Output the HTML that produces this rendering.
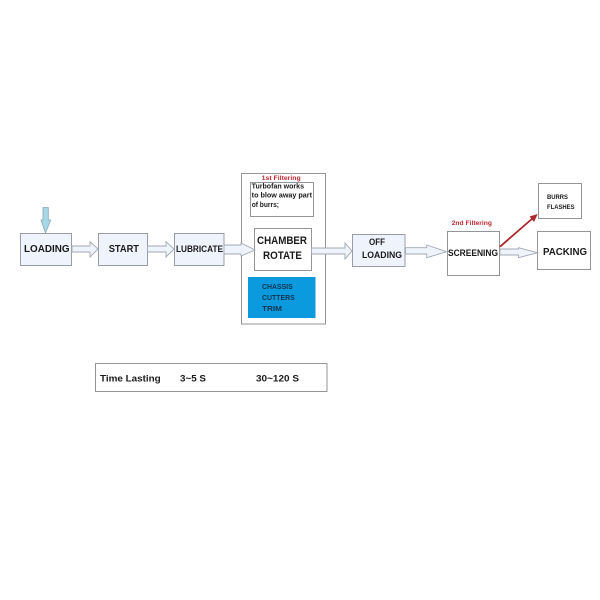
<!DOCTYPE html>
<html><head><meta charset="utf-8"><style>
html,body{margin:0;padding:0;background:#fff}
svg{display:block}
text{font-family:"Liberation Sans",sans-serif;font-weight:bold;fill:#1a1a1a}
.b{fill:#eff4fc;stroke:#989da4;stroke-width:1}
.w{fill:#fff;stroke:#959595;stroke-width:1}
.a{fill:#eff4fc;stroke:#a0a8b2;stroke-width:.9}
</style></head><body>
<svg width="600" height="600" viewBox="0 0 600 600" xmlns="http://www.w3.org/2000/svg">
<rect width="600" height="600" fill="#fff"/>
<rect class="w" x="241.5" y="173.5" width="84" height="150.5"/>
<rect class="b" x="20.5" y="233.5" width="51" height="32"/>
<rect class="b" x="98.5" y="233.5" width="49" height="32"/>
<rect class="b" x="174.5" y="233.5" width="49.5" height="32"/>
<rect class="b" x="352.5" y="234.5" width="52.5" height="32"/>
<rect class="w" x="250.5" y="182.5" width="63" height="34"/>
<rect class="w" x="254.5" y="228.5" width="57" height="42"/>
<rect x="248" y="277" width="67.5" height="41" fill="#0b9ade"/>
<rect class="w" x="447.5" y="231.5" width="52" height="44"/>
<rect class="w" x="538.5" y="183.5" width="43" height="35"/>
<rect class="w" x="537.5" y="231.5" width="53" height="38"/>
<rect class="w" x="95.5" y="363.5" width="231.5" height="28"/>
<polygon points="43,207.5 48.3,207.5 48.3,220 50.7,220 45.5,233 41,220 43,220" fill="#a5d9e8" stroke="#8aa8b5" stroke-width=".8"/>
<polygon class="a" points="72,246 90,246 90,241.7 98,249 90,257 90,252 72,252"/>
<polygon class="a" points="147.5,246 166,246 166,241.7 174,249 166,257 166,252 147.5,252"/>
<polygon class="a" points="224,245 241,245 241,243 255,250 241,256 241,254 224,254"/>
<polygon class="a" points="311.5,248 345,248 345,243 352,251 345,259 345,254 311.5,254"/>
<polygon class="a" points="405.5,247.7 426.7,247.7 426.7,245 446.7,251.7 426.7,257.7 426.7,254 405.5,254"/>
<polygon class="a" points="500,249 518.5,249 518.5,247.7 537.7,252.7 518.5,257.7 518.5,255 500,255"/>
<line x1="500" y1="246.7" x2="533" y2="218" stroke="#a82a2a" stroke-width="1.8"/>
<polygon points="537.7,214 529.5,216.5 534,222" fill="#a82a2a"/>
<text x="24" y="252" font-size="10.5" textLength="45.5" lengthAdjust="spacingAndGlyphs">LOADING</text>
<text x="108.7" y="252" font-size="10.5" textLength="30.3" lengthAdjust="spacingAndGlyphs">START</text>
<text x="176" y="252" font-size="9.6" textLength="47" lengthAdjust="spacingAndGlyphs">LUBRICATE</text>
<text x="257" y="244" font-size="10.8" textLength="50" lengthAdjust="spacingAndGlyphs">CHAMBER</text>
<text x="263" y="259" font-size="10.8" textLength="39" lengthAdjust="spacingAndGlyphs">ROTATE</text>
<text x="261.7" y="180" font-size="6.8" textLength="39" lengthAdjust="spacingAndGlyphs" style="fill:#c02a34">1st Filtering</text>
<text x="251.7" y="188.3" font-size="7" textLength="52.3" lengthAdjust="spacingAndGlyphs">Turbofan works</text>
<text x="251.7" y="197.3" font-size="7" textLength="60.3" lengthAdjust="spacingAndGlyphs">to blow away part</text>
<text x="251.7" y="207" font-size="7" textLength="27.3" lengthAdjust="spacingAndGlyphs">of burrs;</text>
<text x="262" y="289" font-size="7.6" textLength="30.7" lengthAdjust="spacingAndGlyphs" style="fill:#12334f">CHASSIS</text>
<text x="262" y="300" font-size="7.6" textLength="32.7" lengthAdjust="spacingAndGlyphs" style="fill:#12334f">CUTTERS</text>
<text x="262" y="311" font-size="7.6" textLength="20" lengthAdjust="spacingAndGlyphs" style="fill:#12334f">TRIM</text>
<text x="369" y="245" font-size="9.3" textLength="16" lengthAdjust="spacingAndGlyphs">OFF</text>
<text x="362" y="258" font-size="9.3" textLength="40" lengthAdjust="spacingAndGlyphs">LOADING</text>
<text x="448" y="256" font-size="9.2" textLength="50" lengthAdjust="spacingAndGlyphs">SCREENING</text>
<text x="451.7" y="225" font-size="6.8" textLength="40.3" lengthAdjust="spacingAndGlyphs" style="fill:#c02a34">2nd Filtering</text>
<text x="547" y="199" font-size="6.3" textLength="21" lengthAdjust="spacingAndGlyphs">BURRS</text>
<text x="547" y="209" font-size="6.3" textLength="27.5" lengthAdjust="spacingAndGlyphs">FLASHES</text>
<text x="543" y="255" font-size="10.5" textLength="44" lengthAdjust="spacingAndGlyphs">PACKING</text>
<text x="100" y="381.5" font-size="9.3" textLength="60.7" lengthAdjust="spacingAndGlyphs">Time Lasting</text>
<text x="180" y="381.5" font-size="9.3" textLength="26" lengthAdjust="spacingAndGlyphs">3~5 S</text>
<text x="256" y="381.5" font-size="9.3" textLength="43" lengthAdjust="spacingAndGlyphs">30~120 S</text>
</svg>
</body></html>
